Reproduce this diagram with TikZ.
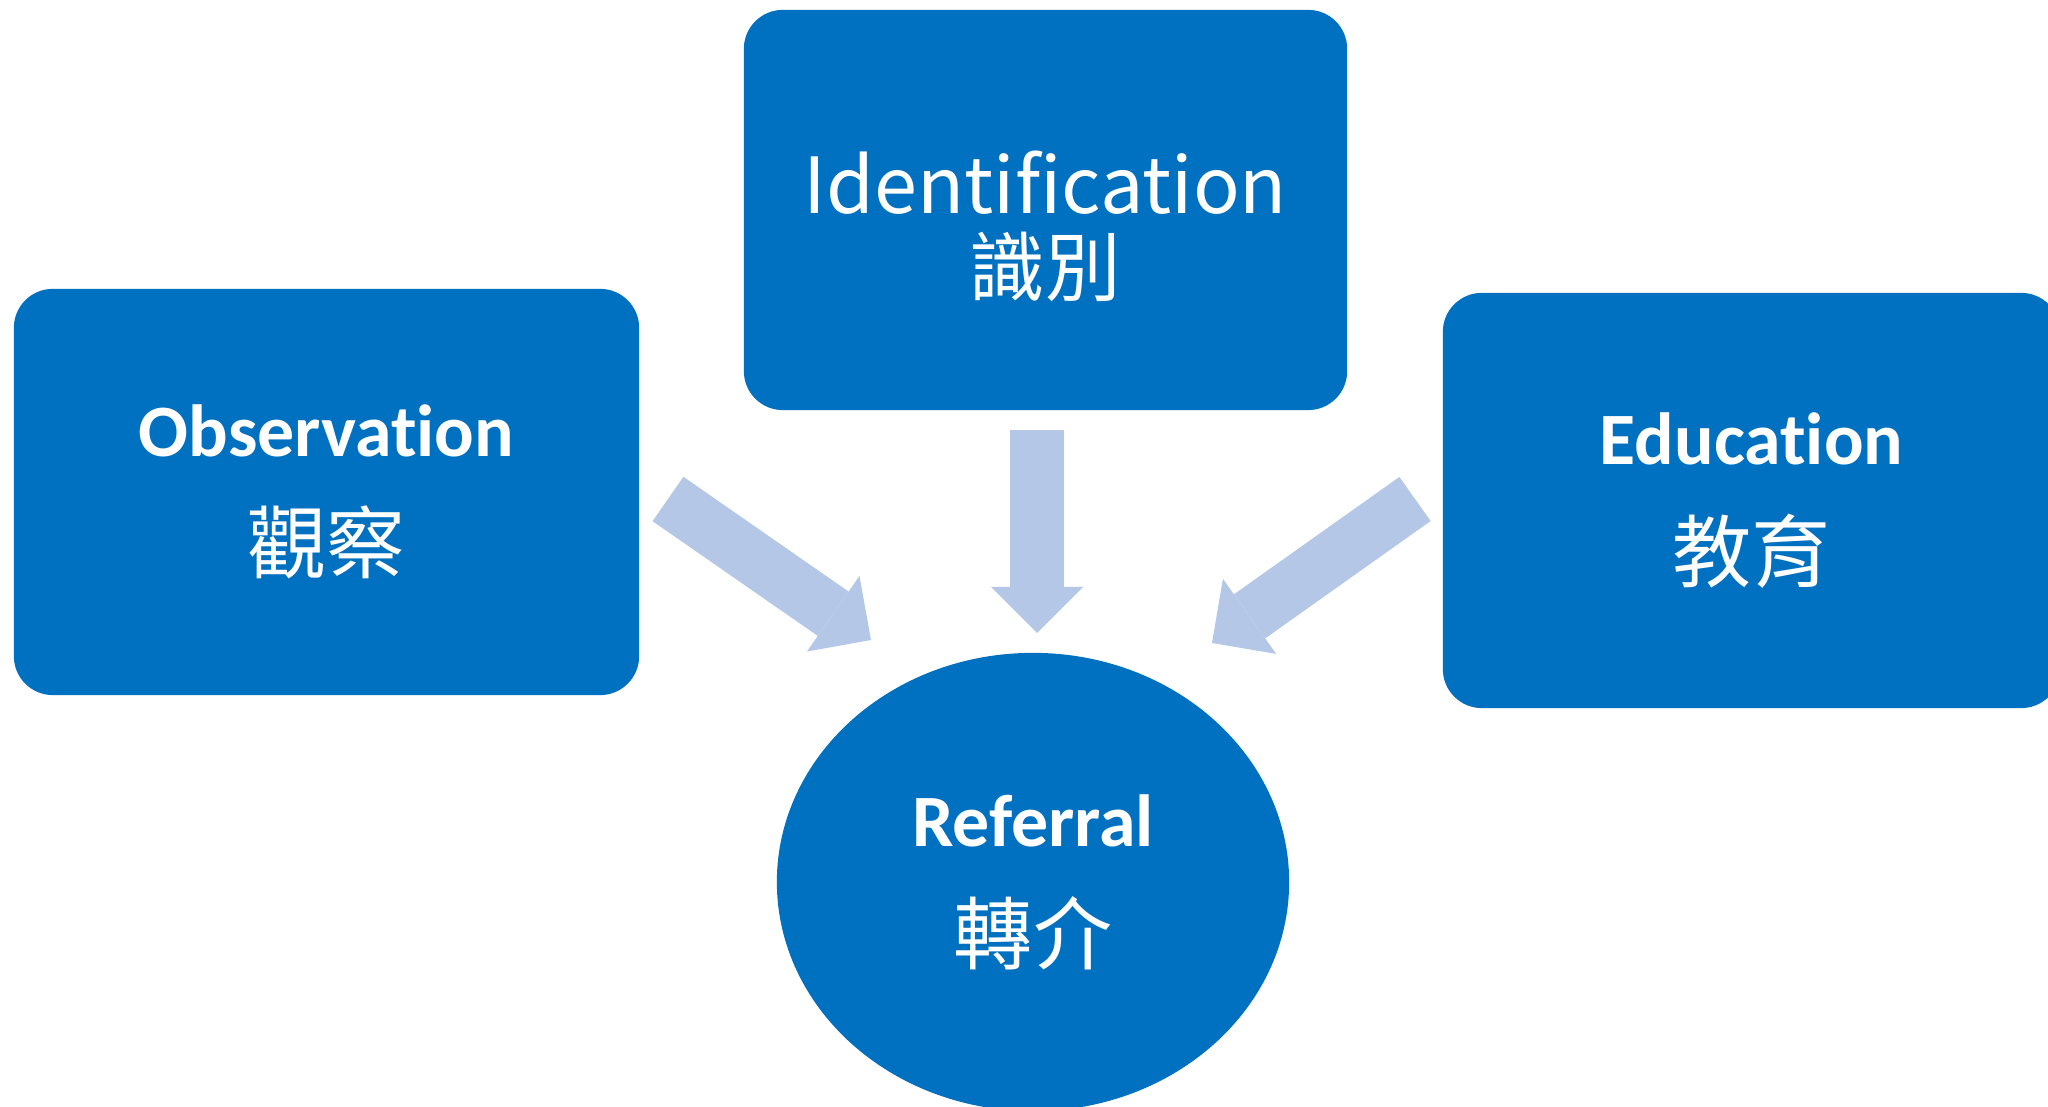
\documentclass[tikz,border=0pt]{standalone}
\usepackage{fontspec}
\setmainfont{Carlito}[Ligatures={NoCommon}]
\newfontfamily\cjk{Noto Sans CJK TC}[Ligatures={NoCommon}]
\usepackage{tikz}
\usetikzlibrary{arrows.meta,shapes.geometric}

\definecolor{boxblue}{HTML}{0070C0}
\definecolor{arrblue}{HTML}{B4C7E7}

\begin{document}
\begin{tikzpicture}[x=0.01cm,y=-0.01cm]

%Define fonts and styles
\def\engb{\fontsize{21}{25}\selectfont\bfseries}
\def\engr{\cjk\fontsize{22}{26}\selectfont}
\def\zh{\cjk\fontsize{22.5}{27}\selectfont}
\tikzset{
  stage/.style={fill=boxblue, rounded corners=0.39cm, text=white, align=center, inner sep=0pt},
  inflow/.style={arrblue, line width=0.54cm, -{Triangle[width=0.92cm,length=0.46cm,line width=0pt]}},
}

\useasboundingbox (0,0) rectangle (2048,1107);

% Stage boxes
\node[stage, minimum width=6.25cm, minimum height=4.06cm] (obs) at (326.5,492)
  {\engb Observation\\[13pt]\zh 觀察};
\node[stage, minimum width=6.03cm, minimum height=4.00cm] (idf) at (1045.5,210) {};
\node[text=white, align=center, inner sep=0pt] (idft) at ([yshift=-0.16cm]idf.center)
  {\engr Identification\\[4pt]\zh\fontsize{21.5}{26}\selectfont 識別};
\node[stage, minimum width=6.17cm, minimum height=4.15cm] (edu) at (1751.5,500.5)
  {\engb Education\\[13pt]\zh 教育};

% Referral
\node[ellipse, fill=boxblue, text=white, align=center, inner sep=0pt,
      minimum width=5.12cm, minimum height=4.58cm] (ref) at (1033,882)
  {\engb Referral\\[13pt]\zh 轉介};

% Define coordinates
\coordinate (ot) at (668,499);
\coordinate (oh) at (871,640);
\coordinate (it) at (1037,430);
\coordinate (ih) at (1037,633);
\coordinate (et) at (1415,499);
\coordinate (eh) at (1212,643);

% Arrows into referral
\draw[inflow] (ot) -- (oh);
\draw[inflow] (it) -- (ih);
\draw[inflow] (et) -- (eh);

\end{tikzpicture}
\end{document}
